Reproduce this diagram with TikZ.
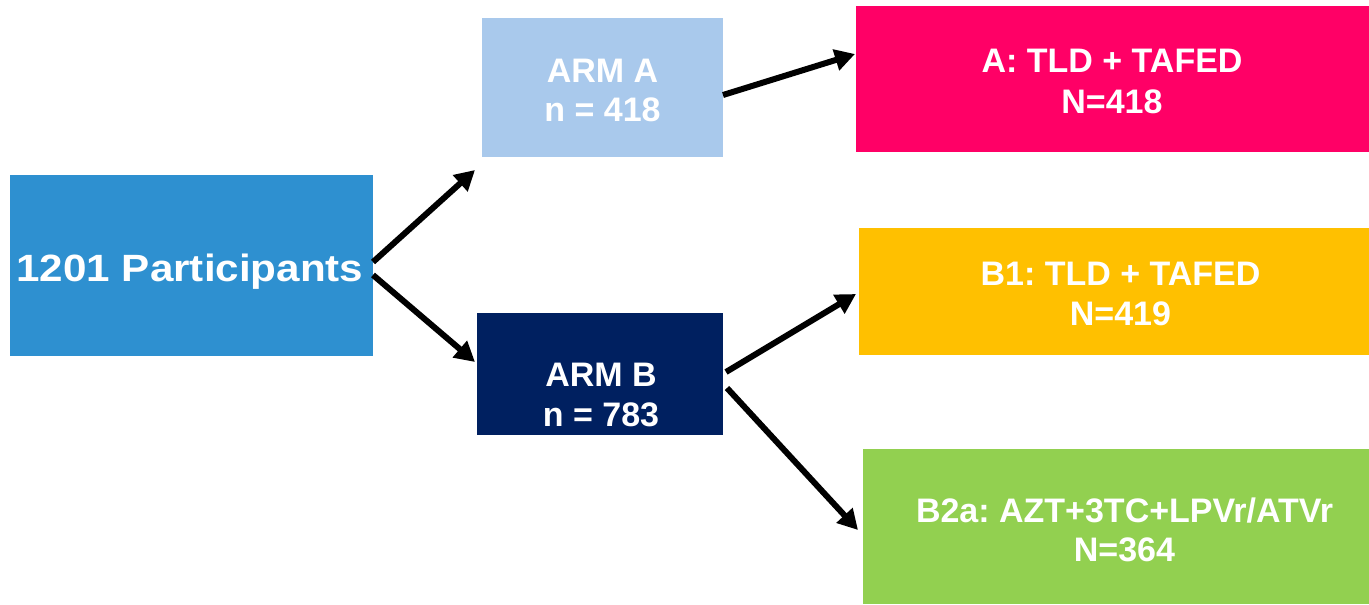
\documentclass[tikz,border=0pt]{standalone}
\usepackage{fontspec}
\setmainfont{Liberation Sans}
\newfontfamily\widefont[FakeStretch=1.11]{Liberation Sans}
\usetikzlibrary{arrows.meta,calc}
\definecolor{cP}{HTML}{2E90D0}
\definecolor{cArmA}{HTML}{A9C9EC}
\definecolor{cArmB}{HTML}{002060}
\definecolor{cA}{HTML}{FF0066}
\definecolor{cBone}{HTML}{FFC000}
\definecolor{cBtwo}{HTML}{92D050}
\tikzset{
  box/.style={draw=none, inner sep=0pt, outer sep=0pt},
  lbl/.style={inner sep=0pt, outer sep=0pt, anchor=base, text=white,
    font=\fontsize{34}{40}\selectfont\bfseries\frenchspacing},
  conn/.style={line width=6pt, -{Triangle[length=20pt,width=21pt]}}
}
\begin{document}
\begin{tikzpicture}[x=1pt,y=-1pt]
\useasboundingbox (0,0) rectangle (1369,605);
% boxes
\node[box, fill=cP, minimum width=363pt, minimum height=181pt] (P) at (191.5,265.5) {};
\node[box, fill=cArmA, minimum width=241pt, minimum height=139pt] (ARMA) at (602.5,87.5) {};
\node[box, fill=cArmB, minimum width=246pt, minimum height=122pt] (ARMB) at (600,374) {};
\node[box, fill=cA, minimum width=513pt, minimum height=146pt] (A) at (1112.5,79) {};
\node[box, fill=cBone, minimum width=510pt, minimum height=127pt] (B1) at (1114,291.5) {};
\node[box, fill=cBtwo, minimum width=506pt, minimum height=155pt] (B2) at (1116,526.5) {};
% texts
\node[lbl, font=\fontsize{38}{44}\widefont\bfseries] (tP) at (190,281) {1201 Participants};
\node[lbl] (tA1) at (602.5,82.3) {ARM A};
\node[lbl] (tA2) at (602.5,121.5) {n = 418};
\node[lbl] (tB1) at (601,386.7) {ARM B};
\node[lbl] (tB2) at (601,426.7) {n = 783};
\node[lbl] (tC1) at (1112,72.3) {A: TLD + TAFED};
\node[lbl] (tC2) at (1112,113.3) {N=418};
\node[lbl] (tD1) at (1120.5,285.7) {B1: TLD + TAFED};
\node[lbl] (tD2) at (1120.5,325) {N=419};
\node[lbl] (tE1) at (1124.5,522.3) {B2a: AZT+3TC+LPVr/ATVr};
\node[lbl] (tE2) at (1124.5,561.7) {N=364};
% connectors
\draw[conn] ($(P.east)+(0,-3.5)$) -- ($(ARMA.south west)+(-7,13)$);
\draw[conn] ($(P.east)+(0,9.5)$) -- ($(ARMB.west)+(-2,-12)$);
\draw[conn] ($(ARMA.east)+(0,7.5)$) -- ($(A.west)+(-1,-25)$);
\draw[conn] ($(ARMB.east)+(3,-2)$) -- ($(B1.west)+(-3,2.5)$);
\draw[conn] ($(ARMB.east)+(4,14)$) -- ($(B2.west)+(-5,3.5)$);
\end{tikzpicture}
\end{document}
